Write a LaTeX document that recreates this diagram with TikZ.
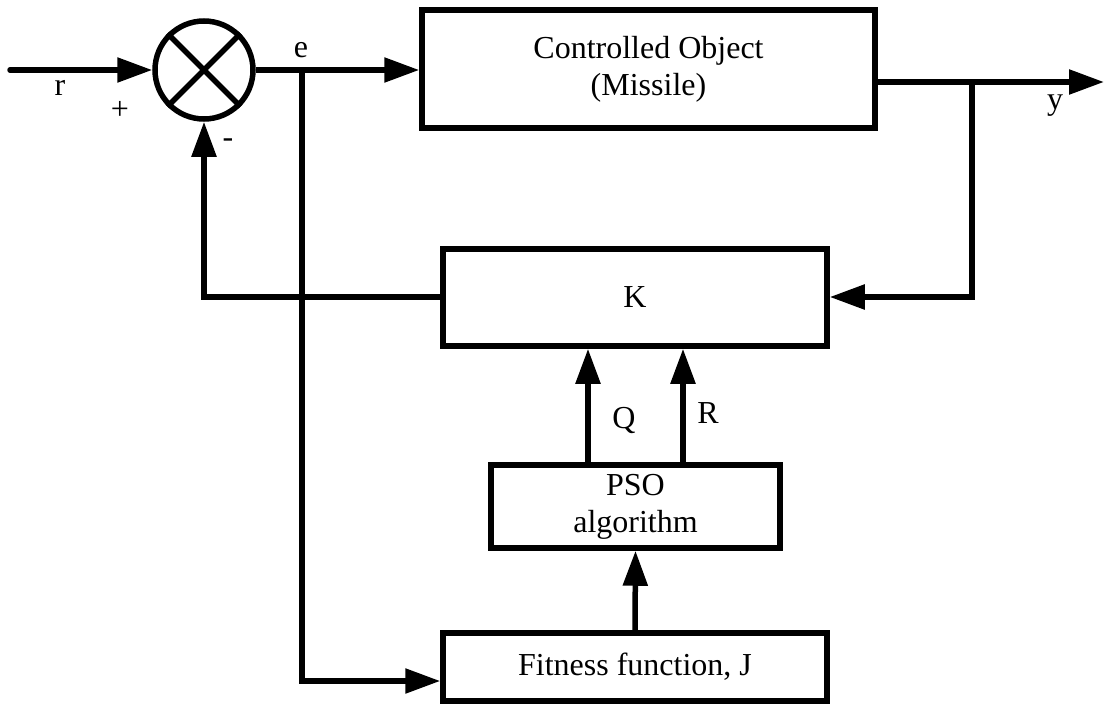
\documentclass[tikz,border=0pt]{standalone}
\usepackage{fontspec}
\setmainfont{Liberation Serif}
\usetikzlibrary{arrows.meta}
\begin{document}
\begin{tikzpicture}[x=1pt,y=-1pt,
  wire/.style={line width=5.5pt},
  arr/.style={wire,-{Triangle[length=35pt,width=24pt]}},
  blockbox/.style={draw,line width=5.5pt,rectangle,inner sep=0pt,
    font=\fontsize{32}{37}\selectfont,align=center},
  lbl/.style={font=\fontsize{32}{37}\selectfont,inner sep=0pt}]
\useasboundingbox (0,0) rectangle (1105,704);

% blocks
\node[blockbox,minimum width=453pt,minimum height=118pt] (plant) at (648.5,69) {Controlled Object\\(Missile)};
\node[blockbox,minimum width=384pt,minimum height=97pt] (K) at (635,297.5) {K};
\node[blockbox,minimum width=289pt,minimum height=83pt] (pso) at (635.5,506.5) {PSO\\algorithm};
\node[blockbox,minimum width=384pt,minimum height=68pt] (fit) at (635,667) {Fitness function, J};

% summing junction
\node[draw,circle,line width=5.5pt,minimum size=98pt,inner sep=0pt] (sum) at (204,70) {};
\draw[wire] (sum.north west) -- (sum.south east);
\draw[wire] (sum.north east) -- (sum.south west);

% helper points
\coordinate (in) at (10,70);
\coordinate (ej) at (302,70);
\coordinate (eb) at (302,681);
\coordinate (yj) at (972,82);
\coordinate (yk) at (972,297);
\coordinate (out) at (1104,82);
\coordinate (kl) at (204,297);
\coordinate (qx) at (588,0);
\coordinate (rx) at (683,0);

% forward path
\draw[arr,line cap=round] (in) -- (sum.west);
\draw[arr] (sum.east) -- (plant.west |- ej);
\draw[arr] (plant.east |- yj) -- (out);

% feedback through K
\draw[arr] (yj) -- (yk) -- (K.east |- yk);
\draw[arr] (K.west |- kl) -- (kl) -- (sum.south);

% error branch to the fitness function
\draw[arr] (ej) -- (eb) -- (fit.west |- eb);

% optimiser outputs
\draw[arr] (fit.north) -- (pso.south);
\draw[arr] (pso.north -| qx) -- (K.south -| qx);
\draw[arr] (pso.north -| rx) -- (K.south -| rx);

% labels
\node[lbl] (lr) at (60,88) {r};
\node[lbl] (lplus) at (120,110) {+};
\node[lbl] (lminus) at (228,143) {-};
\node[lbl] (le) at (301,50) {e};
\node[lbl] (ly) at (1055,106) {y};
\node[lbl] (lq) at (624,420) {Q};
\node[lbl] (lR) at (708,413) {R};
\end{tikzpicture}
\end{document}
